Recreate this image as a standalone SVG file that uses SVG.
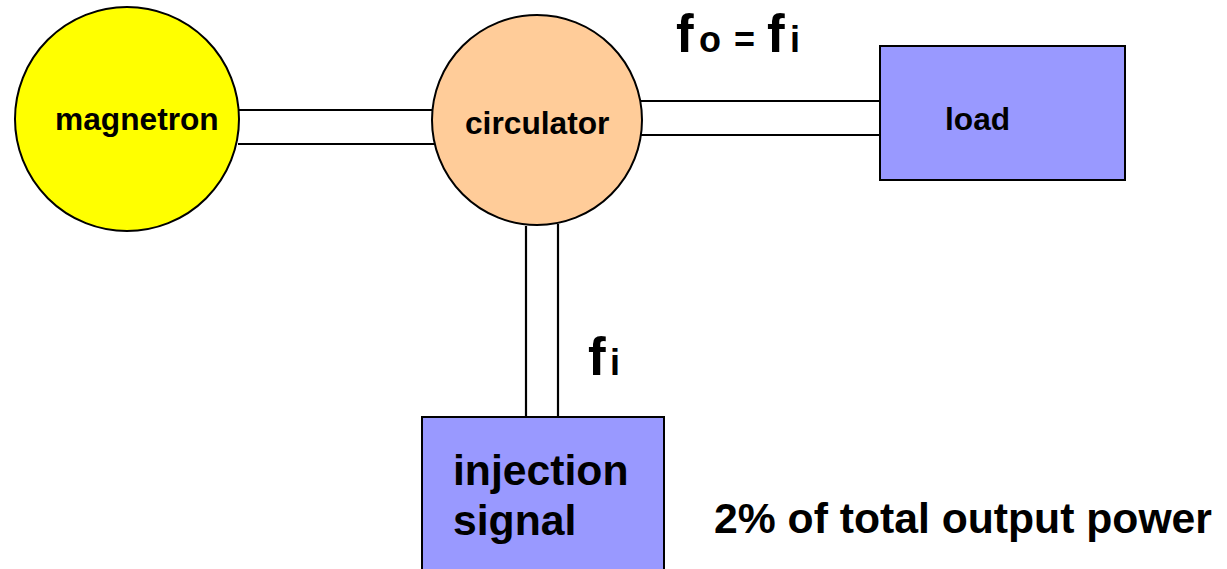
<svg xmlns="http://www.w3.org/2000/svg" width="1227" height="569" viewBox="0 0 1227 569">
<style>
text{font-family:"Liberation Sans",Arial,sans-serif;font-weight:bold;fill:#000}
.s{stroke:#000;stroke-width:2}
.l{stroke:#000;stroke-width:2.2;fill:none}
.m{font-size:31.7px}
.b{font-size:42.7px}
.f{font-size:53px}
.sub{font-size:36px}
</style>
<rect width="1227" height="569" fill="#fff"/>
<g id="connectors">
<line class="l" x1="238" y1="110" x2="435" y2="110"/>
<line class="l" x1="238" y1="144" x2="435" y2="144"/>
<line class="l" x1="640" y1="101" x2="882" y2="101"/>
<line class="l" x1="640" y1="135" x2="882" y2="135"/>
<line class="l" x1="526" y1="226" x2="526" y2="418"/>
<line class="l" x1="558" y1="224" x2="558" y2="418"/>
</g>
<g id="magnetron">
<circle class="s" cx="127" cy="119" r="112" fill="#FFFF00"/>
<text class="m" x="55" y="130">magnetron</text>
</g>
<g id="circulator">
<circle class="s" cx="537" cy="120" r="105" fill="#FFCC99"/>
<text class="m" x="465" y="134">circulator</text>
</g>
<g id="load">
<rect class="s" x="880" y="46" width="245" height="134" fill="#9999FF"/>
<text class="m" x="945" y="130">load</text>
</g>
<g id="injection">
<rect class="s" x="422" y="417" width="242" height="160" fill="#9999FF"/>
<text class="b" x="453" y="485">injection</text>
<text class="b" x="453" y="535">signal</text>
</g>
<text class="f" y="52"><tspan x="676">f</tspan><tspan class="sub" x="699">o</tspan><tspan class="sub" x="734">=</tspan><tspan x="767">f</tspan><tspan class="sub" x="790">i</tspan></text>
<text class="f" y="375"><tspan x="588">f</tspan><tspan class="sub" x="610">i</tspan></text>
<text class="b" x="714" y="533">2% of total output power</text>
</svg>
